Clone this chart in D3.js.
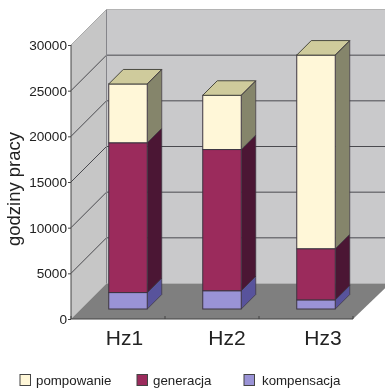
<!DOCTYPE html>
<html>
<head>
<meta charset="utf-8">
<script src="https://cdn.jsdelivr.net/npm/d3@7"></script>
<style>
body { margin: 0; background: #fff; }
svg { display: block; font-family: "Liberation Sans", Arial, sans-serif; filter: blur(0.35px); }
</style>
</head>
<body>
<div id="chart"></div>
<script>
// values
const categories = ["Hz1", "Hz2", "Hz3"];
const kompensacja = [1800, 2000, 1000];
const generacja = [16400, 15460, 5600];
const pompowanie = [6440, 5940, 21200];
const yTicks = [0, 5000, 10000, 15000, 20000, 25000, 30000];

const seriesNames = ["kompensacja", "generacja", "pompowanie"];
const seriesValues = [kompensacja, generacja, pompowanie];
const legendOrder = ["pompowanie", "generacja", "kompensacja"];

const width = 385;
const height = 389;

// front face of the box and how far the wall sits behind it
const plot = {left: 71, right: 353, top: 45, bottom: 319};
const wallDepth = 35.5;
const barInset = 10;
const barDepth = 14.5;
const barWidth = 38.5;

const colors = {
	pompowanie: {front: "#fff7d8", side: "#85856b", top: "#cfcb9c"},
	generacja: {front: "#9b2b5c", side: "#4b1634", top: "#7a2248"},
	kompensacja: {front: "#9a93d6", side: "#58539c", top: "#7c76bc"}
};
const legendX = {pompowanie: 20, generacja: 137, kompensacja: 244};
const legendTextX = {pompowanie: 36, generacja: 153, kompensacja: 262};
// the labels are not centred on their bands in the original
const labelShift = {Hz1: 6.5, Hz2: 15, Hz3: 17};

const x = d3.scaleBand().domain(categories).range([plot.left, plot.right]);
const y = d3.scaleLinear().domain([0, 30000]).range([plot.bottom, plot.top]);

const svg = d3.select("#chart").append("svg")
	.attr("width", width)
	.attr("height", height);

const poly = pts => pts.map(p => p.join(",")).join(" ");

// walls and floor
svg.append("polygon")
	.attr("points", poly([
		[plot.left + wallDepth, y(30000) - wallDepth], [width + 5, y(30000) - wallDepth],
		[width + 5, y(0) - wallDepth], [plot.left + wallDepth, y(0) - wallDepth]
	]))
	.attr("fill", "#c9c9cb");

svg.append("polygon")
	.attr("points", poly([
		[plot.left, y(30000)], [plot.left + wallDepth, y(30000) - wallDepth],
		[plot.left + wallDepth, y(0) - wallDepth], [plot.left, y(0)]
	]))
	.attr("fill", "#c6c6c6");

svg.append("polygon")
	.attr("points", poly([
		[plot.left, y(0)], [plot.left + wallDepth, y(0) - wallDepth],
		[width + 5, y(0) - wallDepth], [plot.right, y(0)]
	]))
	.attr("fill", "#7f7f7f");

// gridlines
svg.append("g").selectAll("path")
	.data(yTicks.filter(d => d > 0))
	.join("path")
	.attr("d", d => `M${plot.left},${y(d)}L${plot.left + wallDepth},${y(d) - wallDepth}L${width},${y(d) - wallDepth}`)
	.attr("fill", "none")
	.attr("stroke", d => d === 30000 ? "#aaa" : "#4a4a4f")
	.attr("stroke-width", 1);

svg.append("line")
	.attr("x1", plot.left + wallDepth).attr("x2", plot.left + wallDepth)
	.attr("y1", y(30000) - wallDepth).attr("y2", y(0) - wallDepth)
	.attr("stroke", "#85858a");

svg.append("line")
	.attr("x1", plot.left + wallDepth).attr("x2", width)
	.attr("y1", y(30000) - wallDepth).attr("y2", y(30000) - wallDepth)
	.attr("stroke", "#b4b4b4");

// stacked boxes
const stacked = d3.stack().keys(seriesNames)(categories.map((c, i) => {
	const row = {category: c};
	seriesNames.forEach((s, j) => { row[s] = seriesValues[j][i]; });
	return row;
}));

const lift = v => y(v) - barInset;

stacked.forEach(layer => {
	const col = colors[layer.key];
	const g = svg.append("g").attr("class", layer.key);
	layer.forEach((d, i) => {
		const x0 = x(categories[i]) + (x.bandwidth() - barWidth) / 2 + barInset;
		const x1 = x0 + barWidth;
		g.append("polygon")
			.attr("points", poly([
				[x1, lift(d[1])], [x1 + barDepth, lift(d[1]) - barDepth],
				[x1 + barDepth, lift(d[0]) - barDepth], [x1, lift(d[0])]
			]))
			.attr("fill", col.side);
		g.append("rect")
			.attr("x", x0).attr("y", lift(d[1]))
			.attr("width", barWidth).attr("height", lift(d[0]) - lift(d[1]))
			.attr("fill", col.front)
			.attr("stroke", "#3c3440").attr("stroke-width", 1);
		if (layer.key === "pompowanie") {
			g.append("polygon")
				.attr("points", poly([
					[x0, lift(d[1])], [x0 + barDepth, lift(d[1]) - barDepth],
					[x1 + barDepth, lift(d[1]) - barDepth], [x1, lift(d[1])]
				]))
				.attr("fill", col.top)
				.attr("stroke", "#4a4a40");
		}
		g.append("path")
			.attr("d", `M${x1},${lift(d[1])}L${x1 + barDepth},${lift(d[1]) - barDepth}L${x1 + barDepth},${lift(d[0]) - barDepth}L${x1},${lift(d[0])}`)
			.attr("fill", "none")
			.attr("stroke", "#3c3440")
			.attr("stroke-opacity", 0.7);
	});
});

// axes
const yAxis = svg.append("g")
	.attr("transform", `translate(${plot.left},0)`)
	.call(d3.axisLeft(y).tickValues(yTicks).tickSize(3).tickPadding(1).tickFormat(d3.format("d")));
yAxis.selectAll("text")
	.attr("font-size", 13.6)
	.attr("font-family", "Liberation Sans")
	.attr("fill", "#222");
yAxis.selectAll("line").attr("stroke", "#444");
yAxis.select(".domain").attr("stroke", "#444").attr("d", `M0,${plot.top}V${plot.bottom}`);

const xAxis = svg.append("g")
	.attr("transform", `translate(0,${plot.bottom})`)
	.call(d3.axisBottom(x).tickSize(0).tickPadding(11));
xAxis.selectAll("text")
	.attr("font-size", 21)
	.attr("font-family", "Liberation Sans")
	.attr("fill", "#222")
	.attr("dx", d => labelShift[d]);
xAxis.select(".domain").attr("stroke", "#444").attr("d", `M${plot.left},0H${plot.right}`);
xAxis.selectAll(".cat-tick")
	.data(d3.range(categories.length + 1))
	.join("line")
	.attr("x1", d => plot.left + d * x.step()).attr("x2", d => plot.left + d * x.step())
	.attr("y1", -3).attr("y2", 0)
	.attr("stroke", "#444");

svg.append("text")
	.attr("transform", "translate(20,189) rotate(-90)")
	.attr("text-anchor", "middle")
	.attr("font-size", 18.5)
	.attr("fill", "#222")
	.text("godziny pracy");

// legend
const legend = svg.append("g").selectAll("g")
	.data(legendOrder)
	.join("g");
legend.append("rect")
	.attr("x", d => legendX[d]).attr("y", 374.5)
	.attr("width", 10.5).attr("height", 11)
	.attr("fill", d => colors[d].front)
	.attr("stroke", "#444");
legend.append("text")
	.attr("x", d => legendTextX[d]).attr("y", 384.5)
	.attr("font-size", 13.3)
	.attr("fill", "#222")
	.text(d => d);
</script>
</body>
</html>
